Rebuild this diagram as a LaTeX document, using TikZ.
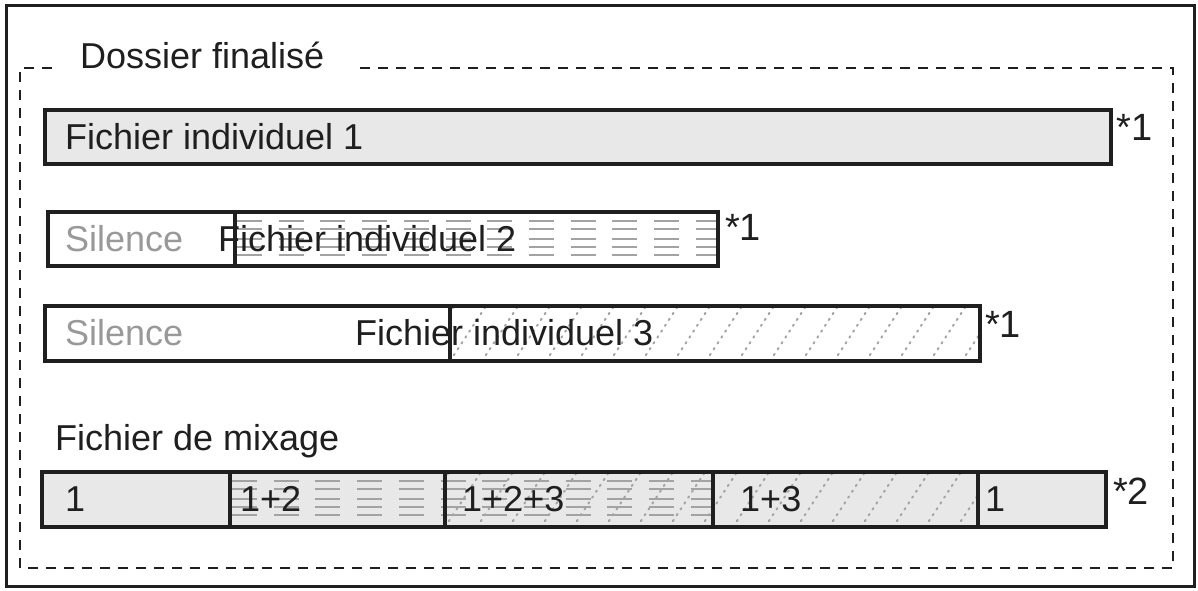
\documentclass[tikz,border=0pt]{standalone}
\usepackage{fontspec}
\setmainfont{Liberation Sans}
\usetikzlibrary{positioning}

\definecolor{ink}{gray}{0.12}
\definecolor{barfill}{gray}{0.91}
\definecolor{silgray}{gray}{0.6}
\definecolor{patgray}{gray}{0.64}

% Short horizontal dashes (file 2) inside the box (x1,y1)-(x2,y2)
\newcommand{\hdashes}[4]{%
  \begin{scope}
    \clip (#1,#2) rectangle (#3,#4);
    \foreach \k in {0,...,15}{
      \foreach \r in {9,17,27,35,43}{
        \draw[pat] (#1+2+41.7*\k,#2+\r) -- ++(25,0);
      }
    }
  \end{scope}}

% Dotted diagonals (file 3) inside the box (x1,y1)-(x2,y2)
\newcommand{\diagdashes}[4]{%
  \begin{scope}
    \clip (#1,#2) rectangle (#3,#4);
    \foreach \k in {0,...,20}{
      \draw[patd] (#1-32+32*\k,#4) -- ++(36,#2-#4);
    }
  \end{scope}}

\begin{document}
\begin{tikzpicture}[x=1pt,y=-1pt]

\tikzstyle{bar}=[draw=ink, line width=4.5pt]
\tikzstyle{pat}=[draw=patgray, line width=2pt]
\tikzstyle{patd}=[draw=patgray, line width=2pt, line cap=round, dash pattern=on 1.5pt off 5.5pt]
\tikzstyle{lbl}=[inner sep=0pt, anchor=west, text=ink, font=\fontsize{36}{40}\selectfont]
\tikzstyle{sil}=[lbl, text=silgray]
\tikzstyle{star}=[inner sep=0pt, anchor=north west, text=ink, font=\fontsize{38}{42}\selectfont]

\useasboundingbox (0,0) rectangle (1198,590);

% Outer frame and dashed folder frame
\draw[ink, line width=3pt] (6,5) rectangle (1194,586);
\draw[ink, line width=2.3pt, dash pattern=on 10pt off 8pt]
  (52,68) -- (20,68) -- (20,568) -- (1173,568) -- (1173,68) -- (355,68);
\node[lbl, anchor=base west] (title) at (80,68) {Dossier finalisé};

% Individual file 1
\fill[barfill] (45,110) rectangle (1111,164);
\draw[bar] (45,110) rectangle (1111,164);
\node[lbl] (f1) at (65,137) {Fichier individuel 1};
\node[star] (s1) at (1116,114) {*1};

% Individual file 2, after a silence
\hdashes{235}{212}{718}{266}
\draw[bar] (48,212) rectangle (718,266);
\draw[bar] (235,212) -- (235,266);
\node[sil] (sil2) at (65,239) {Silence};
\node[lbl] (f2) at (218,239) {Fichier individuel 2};
\node[star] (s2) at (725,214) {*1};

% Individual file 3, after a longer silence
\diagdashes{450}{306}{980}{361}
\draw[bar] (45,306) rectangle (980,361);
\draw[bar] (450,306) -- (450,361);
\node[sil] (sil3) at (65,333) {Silence};
\node[lbl] (f3) at (355,333) {Fichier individuel 3};
\node[star] (s3) at (985,311) {*1};

% Mixing file
\node[lbl, anchor=base west] (mixt) at (55,450) {Fichier de mixage};
\fill[barfill] (42,472) rectangle (1106,527);
\hdashes{230}{472}{713}{527}
\diagdashes{445}{472}{978}{527}
\draw[bar] (42,472) rectangle (1106,527);
\foreach \xx in {230,445,713,978}
  \draw[bar] (\xx,472) -- (\xx,527);
\node[lbl] (m1) at (65,499) {1};
\node[lbl] (m12) at (240,499) {1+2};
\node[lbl] (m123) at (462,499) {1+2+3};
\node[lbl] (m13) at (740,499) {1+3};
\node[lbl] (m1b) at (985,499) {1};
\node[star] (s4) at (1113,478) {*2};

\end{tikzpicture}
\end{document}
